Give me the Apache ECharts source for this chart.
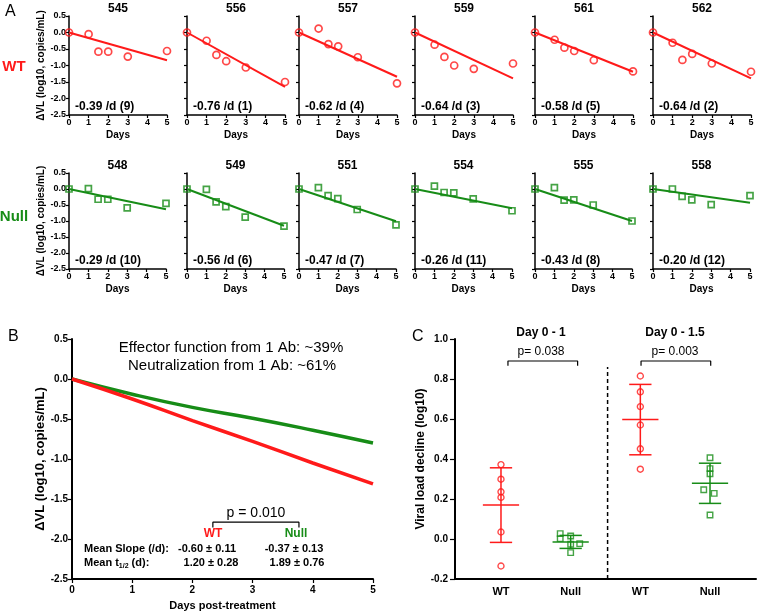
<!DOCTYPE html>
<html>
<head>
<meta charset="utf-8">
<title>Viral load decline</title>
<script src="https://cdn.jsdelivr.net/npm/echarts@6/dist/echarts.min.js"></script>
<style>
    html, body { margin: 0; padding: 0; background: #fff; }
    #main { width: 757px; height: 613px; }
</style>
</head>
<body>
<div id="main"></div>
<script type="text/javascript">
    // ---- panel A: per-animal viral load change ----
    var days = [0, 1, 1.5, 2, 3, 5];
    var wtIds = ['545', '556', '557', '559', '561', '562'];
    var wtVL = [
        [0, -0.05, -0.58, -0.58, -0.73, -0.56],
        [0, -0.25, -0.68, -0.87, -1.06, -1.50],
        [0, 0.12, -0.35, -0.42, -0.75, -1.54],
        [0, -0.37, -0.74, -1.00, -1.10, -0.94],
        [0, -0.22, -0.46, -0.56, -0.84, -1.18],
        [0, -0.31, -0.83, -0.65, -0.94, -1.19]
    ];
    var wtFitEnd = [-0.84, -1.65, -1.34, -1.39, -1.19, -1.39];
    var wtSlope = ['-0.39 /d (9)', '-0.76 /d (1)', '-0.62 /d (4)', '-0.64 /d (3)', '-0.58 /d (5)', '-0.64 /d (2)'];

    var nullIds = ['548', '549', '551', '554', '555', '558'];
    var nullVL = [
        [0, 0.01, -0.32, -0.32, -0.59, -0.45],
        [0, -0.01, -0.40, -0.55, -0.88, -1.16],
        [0, 0.04, -0.21, -0.30, -0.64, -1.12],
        [0, 0.09, -0.11, -0.12, -0.31, -0.68],
        [0, 0.04, -0.35, -0.34, -0.50, -1.00],
        [0, 0.00, -0.23, -0.34, -0.49, -0.21]
    ];
    var nullFitEnd = [-0.63, -1.15, -1.01, -0.60, -1.00, -0.43];
    var nullSlope = ['-0.29 /d (10)', '-0.56 /d (6)', '-0.47 /d (7)', '-0.26 /d (11)', '-0.43 /d (8)', '-0.20 /d (12)'];

    // ---- panel B: mean fitted decline ----
    var bDays = [0, 1, 2, 3, 4, 5];
    var bWT = [0, -0.25, -0.52, -0.78, -1.05, -1.31];
    var bNull = [0, -0.19, -0.355, -0.49, -0.64, -0.80];

    // ---- panel C: early viral load decline ----
    var cCats = ['WT', 'Null', 'WT', 'Null'];
    var cWT1 = [0.372, 0.299, 0.236, 0.208, 0.035, -0.135];
    var cNull1 = [0.027, 0.002, 0.015, -0.026, -0.023, -0.068];
    var cNull1Jit = [-0.15, -0.15, 0, 0, 0.13, 0];
    var cWT2 = [0.815, 0.736, 0.662, 0.570, 0.451, 0.349];
    var cNull2 = [0.406, 0.352, 0.326, 0.246, 0.228, 0.120];
    var cNull2Jit = [0, 0, 0, -0.09, 0.06, 0];
    // mean, lower SD, upper SD per group
    var cMean = [0.170, -0.015, 0.598, 0.279];
    var cLow = [-0.017, -0.047, 0.421, 0.178];
    var cHigh = [0.356, 0.018, 0.773, 0.379];

    var FONT = '"Liberation Sans", Arial, Helvetica, sans-serif';
    var RED = '#ff1a1a';
    var GREEN = '#178c17';

    var grids = [], xAxes = [], yAxes = [], series = [], graphics = [];

    function merge(base, over) {
        var out = {}, k;
        for (k in base) out[k] = base[k];
        for (k in over) {
            if (over[k] && typeof over[k] === 'object' && !Array.isArray(over[k]) && base[k] && typeof base[k] === 'object') {
                out[k] = merge(base[k], over[k]);
            } else {
                out[k] = over[k];
            }
        }
        return out;
    }

    function valAxis(over) {
        return merge({
            type: 'value',
            axisLine: {show: true, onZero: false, lineStyle: {color: '#000', width: 1.5}},
            axisTick: {show: true, length: 3, lineStyle: {color: '#000', width: 1.2}},
            axisLabel: {color: '#000', fontFamily: FONT, fontWeight: 'bold', fontSize: 9},
            splitLine: {show: false},
            nameTextStyle: {color: '#000', fontFamily: FONT, fontWeight: 'bold', fontSize: 10}
        }, over || {});
    }

    function addGrid(g, xa, ya) {
        grids.push(g);
        var i = grids.length - 1;
        xa.gridIndex = i;
        ya.gridIndex = i;
        xAxes.push(xa);
        yAxes.push(ya);
        return i;
    }

    function text(x, y, s, font, color, align) {
        graphics.push({
            type: 'text', x: x, y: y, silent: true,
            style: {text: s, font: font, fill: color || '#000', textAlign: align || 'center', textVerticalAlign: 'middle'}
        });
    }

    var mctx = document.createElement('canvas').getContext('2d');
    function textWidth(s, font) {
        mctx.font = font;
        return mctx.measureText(s).width;
    }

    function fmt1(v) { return (Math.round(v * 10) / 10).toFixed(1); }

    // panel A small multiples
    var aLefts = [69, 187, 299, 415, 535, 653];
    [0, 1].forEach(function (row) {
        var isWT = row === 0;
        var top = isWT ? 16 : 173, h = isWT ? 99 : 96, w = isWT ? 98 : 97;
        var color = isWT ? RED : GREEN;
        for (var i = 0; i < 6; i++) {
            var vals = isWT ? wtVL[i] : nullVL[i];
            var fitEnd = isWT ? wtFitEnd[i] : nullFitEnd[i];
            var idx = addGrid(
                {left: aLefts[i], top: top, width: w, height: h},
                valAxis({
                    min: 0, max: 5, interval: 1,
                    axisLabel: {margin: 3},
                    name: 'Days', nameLocation: 'middle', nameGap: 15
                }),
                valAxis({
                    min: -2.5, max: 0.5, interval: 0.5,
                    axisLabel: {show: i === 0, margin: 3, formatter: fmt1},
                    name: i === 0 ? '\u0394VL (log10, copies/mL)' : '',
                    nameLocation: 'middle', nameGap: 20
                })
            );
            series.push({
                type: 'line', xAxisIndex: idx, yAxisIndex: idx,
                data: [[0, 0], [5, fitEnd]],
                showSymbol: false, silent: true, z: 2,
                lineStyle: {color: color, width: 2}
            });
            series.push({
                type: 'scatter', xAxisIndex: idx, yAxisIndex: idx,
                data: days.map(function (d, k) { return [d, vals[k]]; }),
                symbol: isWT ? 'circle' : 'rect', symbolSize: isWT ? 7 : 6,
                silent: true, z: 3,
                itemStyle: {color: 'rgba(255,255,255,0)', borderColor: color, borderWidth: 1.7}
            });
            text(aLefts[i] + w / 2, top - 7, isWT ? wtIds[i] : nullIds[i], 'bold 12px ' + FONT);
            text(aLefts[i] + 6, top + h - 8, isWT ? wtSlope[i] : nullSlope[i], 'bold 12px ' + FONT, '#000', 'left');
        }
    });
    text(5, 12, 'A', '16px ' + FONT, '#000', 'left');
    text(14, 67, 'WT', 'bold 15px ' + FONT, RED);
    text(14, 217, 'Null', 'bold 15px ' + FONT, GREEN);

    // panel B
    var bIdx = addGrid(
        {left: 72, top: 339, width: 301, height: 240},
        valAxis({
            min: 0, max: 5, interval: 1,
            axisLine: {lineStyle: {width: 2}},
            axisTick: {length: 4},
            axisLabel: {fontSize: 10, margin: 6},
            name: 'Days post-treatment', nameLocation: 'middle', nameGap: 21,
            nameTextStyle: {fontSize: 11}
        }),
        valAxis({
            min: -2.5, max: 0.5, interval: 0.5,
            axisLine: {lineStyle: {width: 2}},
            axisTick: {length: 4},
            axisLabel: {fontSize: 10, margin: 4, formatter: fmt1},
            name: '\u0394VL (log10, copies/mL)', nameLocation: 'middle', nameGap: 23,
            nameTextStyle: {fontSize: 13}
        })
    );
    series.push({
        type: 'line', xAxisIndex: bIdx, yAxisIndex: bIdx, smooth: true, showSymbol: false, silent: true,
        data: bDays.map(function (d, k) { return [d, bNull[k]]; }),
        lineStyle: {color: GREEN, width: 3.5}
    });
    series.push({
        type: 'line', xAxisIndex: bIdx, yAxisIndex: bIdx, smooth: true, showSymbol: false, silent: true,
        data: bDays.map(function (d, k) { return [d, bWT[k]]; }),
        lineStyle: {color: RED, width: 3.5}
    });
    series.push({
        type: 'line', xAxisIndex: bIdx, yAxisIndex: bIdx, showSymbol: false, silent: true,
        data: [[2.34, -1.855], [2.34, -1.79], [3.77, -1.79], [3.77, -1.855]],
        lineStyle: {color: '#000', width: 1.2}
    });
    text(8, 337, 'B', '16px ' + FONT, '#000', 'left');
    text(231, 348, 'Effector function from 1 Ab: ~39%', '15px ' + FONT);
    text(232, 366, 'Neutralization from 1 Ab: ~61%', '15px ' + FONT);
    text(256, 513, 'p = 0.010', '14px ' + FONT);
    text(213, 534, 'WT', 'bold 12px ' + FONT, RED);
    text(296, 534, 'Null', 'bold 12px ' + FONT, GREEN);
    var mf = 'bold 11px ' + FONT;
    text(84, 549, 'Mean Slope (/d):', mf, '#000', 'left');
    text(207, 549, '-0.60 \u00b1 0.11', mf);
    text(294, 549, '-0.37 \u00b1 0.13', mf);
    var w1 = textWidth('Mean t', mf);
    text(84, 563, 'Mean t', mf, '#000', 'left');
    text(84 + w1, 566, '1/2', 'bold 7px ' + FONT, '#000', 'left');
    text(84 + w1 + textWidth('1/2', 'bold 7px ' + FONT), 563, ' (d):', mf, '#000', 'left');
    text(211, 563, '1.20 \u00b1 0.28', mf);
    text(297, 563, '1.89 \u00b1 0.76', mf);

    // panel C
    var cIdx = addGrid(
        {left: 455, top: 339, width: 301, height: 240},
        valAxis({
            min: 0.34, max: 4.66,
            axisLine: {lineStyle: {width: 2}},
            axisTick: {show: false},
            axisLabel: {
                fontSize: 11, margin: 7,
                customValues: [1, 2, 3, 4],
                formatter: function (v) { return cCats[Math.round(v) - 1] || ''; }
            }
        }),
        valAxis({
            min: -0.2, max: 1.0, interval: 0.2,
            axisLine: {lineStyle: {width: 2}},
            axisTick: {length: 5},
            axisLabel: {fontSize: 10, margin: 7, formatter: fmt1},
            name: 'Viral load decline (log10)', nameLocation: 'middle', nameGap: 26,
            nameTextStyle: {fontSize: 12}
        })
    );
    var cGroups = [
        {x: 1, vals: cWT1, jit: null, color: RED, symbol: 'circle'},
        {x: 2, vals: cNull1, jit: cNull1Jit, color: GREEN, symbol: 'rect'},
        {x: 3, vals: cWT2, jit: null, color: RED, symbol: 'circle'},
        {x: 4, vals: cNull2, jit: cNull2Jit, color: GREEN, symbol: 'rect'}
    ];
    cGroups.forEach(function (g, gi) {
        series.push({
            type: 'custom', xAxisIndex: cIdx, yAxisIndex: cIdx, silent: true, z: 2,
            data: [[g.x, cMean[gi], cLow[gi], cHigh[gi]]],
            renderItem: function (params, api) {
                var x = api.value(0), m = api.value(1), lo = api.value(2), hi = api.value(3);
                var st = {stroke: g.color, lineWidth: 1.5};
                function seg(a, b) {
                    var p = api.coord(a), q = api.coord(b);
                    return {type: 'line', shape: {x1: p[0], y1: p[1], x2: q[0], y2: q[1]}, style: st};
                }
                return {type: 'group', children: [
                    seg([x, lo], [x, hi]),
                    seg([x - 0.26, m], [x + 0.26, m]),
                    seg([x - 0.16, lo], [x + 0.16, lo]),
                    seg([x - 0.16, hi], [x + 0.16, hi])
                ]};
            }
        });
        series.push({
            type: 'scatter', xAxisIndex: cIdx, yAxisIndex: cIdx, silent: true, z: 3,
            data: g.vals.map(function (v, k) { return [g.x + (g.jit ? g.jit[k] : 0), v]; }),
            symbol: g.symbol, symbolSize: g.symbol === 'circle' ? 6 : 5.5,
            itemStyle: {color: 'rgba(255,255,255,0)', borderColor: g.color, borderWidth: 1.4}
        });
    });
    series.push({
        type: 'line', xAxisIndex: cIdx, yAxisIndex: cIdx, showSymbol: false, silent: true,
        data: [[2.53, -0.2], [2.53, 0.86]],
        lineStyle: {color: '#000', width: 1.5, type: [4, 3]}
    });
    series.push({
        type: 'line', xAxisIndex: cIdx, yAxisIndex: cIdx, showSymbol: false, silent: true,
        data: [[1.1, 0.866], [1.1, 0.89], [2.1, 0.89], [2.1, 0.866]],
        lineStyle: {color: '#000', width: 1.2}
    });
    series.push({
        type: 'line', xAxisIndex: cIdx, yAxisIndex: cIdx, showSymbol: false, silent: true,
        data: [[3.01, 0.866], [3.01, 0.89], [4.01, 0.89], [4.01, 0.866]],
        lineStyle: {color: '#000', width: 1.2}
    });
    text(412, 337, 'C', '16px ' + FONT, '#000', 'left');
    text(541, 333, 'Day 0 - 1', 'bold 12px ' + FONT);
    text(541, 352, 'p= 0.038', '12px ' + FONT);
    text(675, 333, 'Day 0 - 1.5', 'bold 12px ' + FONT);
    text(675, 352, 'p= 0.003', '12px ' + FONT);

    var myChart = echarts.init(document.getElementById('main'));
    myChart.setOption({
        animation: false,
        backgroundColor: '#fff',
        grid: grids,
        xAxis: xAxes,
        yAxis: yAxes,
        series: series,
        graphic: graphics
    });
</script>
</body>
</html>
